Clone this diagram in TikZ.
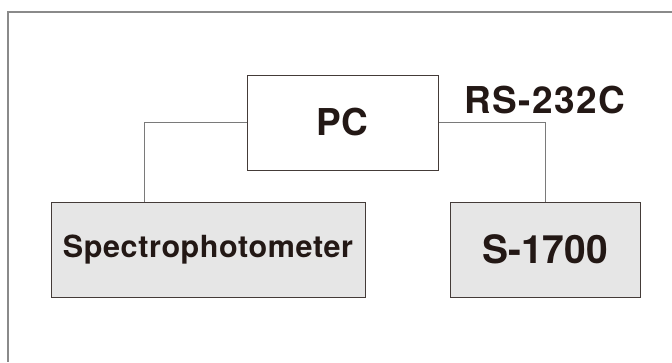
\documentclass[tikz,border=0pt]{standalone}
\usepackage{fontspec}
\setmainfont{TeX Gyre Heros}
\definecolor{inkc}{HTML}{231815}
\definecolor{boxfill}{HTML}{E6E6E6}
\definecolor{linec}{HTML}{7A7A7A}
\definecolor{framec}{HTML}{8A8A8A}
\begin{document}
\begin{tikzpicture}[x=1pt,y=-1pt,
  blk/.style={draw=inkc!85, line width=1pt, rectangle, inner sep=0pt, text=inkc, font=\bfseries},
  conn/.style={draw=linec, line width=1pt},
  lbl/.style={text=inkc, font=\bfseries, inner sep=0pt}]
\useasboundingbox (0,0) rectangle (672,362);
\coordinate (ftr) at (672,12);
\coordinate (ftl) at (8,12);
\coordinate (fbl) at (8,362);
\draw[framec, line width=1.6pt] (ftr) -- (ftl) -- (fbl);
\node[blk, fill=white, minimum width=191pt, minimum height=95pt,
  font=\fontsize{37}{40}\selectfont\bfseries] (pc) at (342.5,122.5) {PC};
\node[blk, fill=boxfill, minimum width=314pt, minimum height=95pt,
  font=\addfontfeatures{LetterSpace=2}\fontsize{30.5}{34}\selectfont\bfseries] (sp) at (208,249.5) {Spectrophotometer};
\node[blk, fill=boxfill, minimum width=190pt, minimum height=95pt,
  font=\fontsize{39}{42}\selectfont\bfseries] (s17) at (545,249.5) {S-1700};
\node[lbl, font=\addfontfeatures{LetterSpace=4}\fontsize{37}{40}\selectfont\bfseries] (rs) at (545,100) {RS-232C};
\draw[conn] (pc.west) -| ([xshift=94pt]sp.north west);
\draw[conn] (pc.east) -| (s17.north);
\end{tikzpicture}
\end{document}
